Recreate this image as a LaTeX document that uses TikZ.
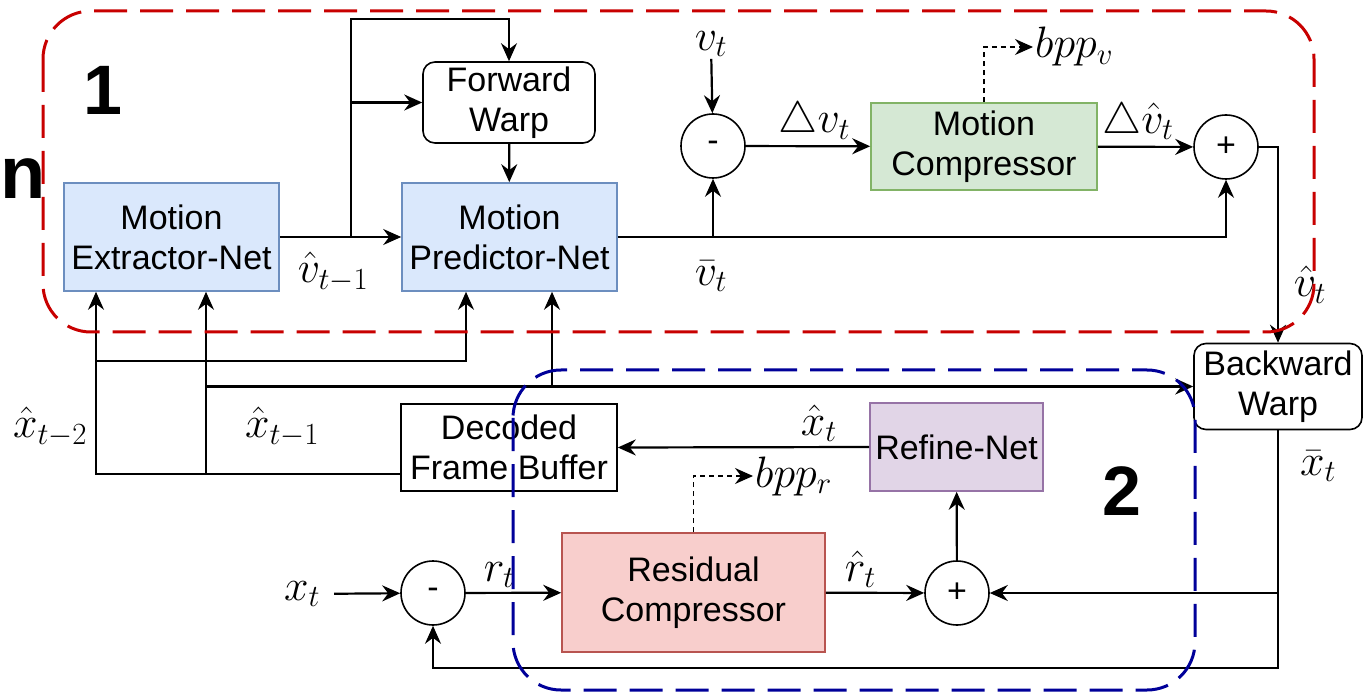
\RequirePackage{fix-cm}
\documentclass[tikz,border=0pt]{standalone}
\usepackage{amsmath}
\usepackage{fontspec}
\setmainfont{Liberation Sans}
\usetikzlibrary{arrows.meta,positioning,calc}
\definecolor{netfill}{HTML}{DAE8FC}
\definecolor{netline}{HTML}{6C8EBF}
\definecolor{mcfill}{HTML}{D5E8D4}
\definecolor{mcline}{HTML}{82B366}
\definecolor{rnfill}{HTML}{E1D5E7}
\definecolor{rnline}{HTML}{9673A6}
\definecolor{rcfill}{HTML}{F8CECC}
\definecolor{rcline}{HTML}{B85450}
\definecolor{regred}{HTML}{C80000}
\definecolor{regblue}{HTML}{000099}
\newcommand{\blockfont}{\fontsize{34}{40}\selectfont}
\newcommand{\labfont}{\fontsize{44}{48}\selectfont}
\newcommand{\numfont}{\fontsize{70}{70}\selectfont\bfseries}

\begin{document}
\begin{tikzpicture}[x=1pt, y=-1pt,
    box/.style={rectangle, draw, line width=1.6pt, align=center,
                font=\blockfont, inner sep=2pt},
    net/.style={box, fill=netfill, draw=netline,
                minimum width=215pt, minimum height=108pt},
    warp/.style={box, rounded corners=12pt, fill=white},
    op/.style={circle, draw, line width=1.6pt, minimum size=64pt,
               inner sep=0pt, font=\blockfont},
    arr/.style={-{Stealth[length=18pt,width=16pt,inset=6pt]}, line width=2.2pt},
    bits/.style={arr, line width=1.4pt, dash pattern=on 5pt off 4pt},
    lab/.style={font=\labfont, inner sep=2pt},
    region/.style={line width=3pt, dash pattern=on 33pt off 13pt,
                   rounded corners=48pt}
]
\useasboundingbox (0,0) rectangle (1363,692);

% motion part
\node[net] (ext) at (171.5,237) {Motion\\Extractor-Net};
\node[net] (pred) at (509.5,237) {Motion\\Predictor-Net};
\node[warp, minimum width=172pt, minimum height=81pt] (fwarp) at (509,102.5) {Forward\\Warp};
\node[op] (msub) at (713,146) {-};
\node[box, fill=mcfill, draw=mcline, minimum width=226pt, minimum height=87pt]
  (mcomp) at (984,146.5) {Motion\\Compressor};
\node[op] (madd) at (1226,147) {+};
\node[lab] (vt) at (711,44) {$v_t$};
\node[lab, anchor=west] (bppv) at (1033,47) {$bpp_v$};

% residual part
\node[warp, minimum width=168pt, minimum height=86pt] (bwarp) at (1278,386.5) {Backward\\Warp};
\node[box, fill=white, minimum width=216pt, minimum height=87pt] (dfb) at (509,447.5) {Decoded\\Frame Buffer};
\node[box, fill=rnfill, draw=rnline, minimum width=173pt, minimum height=88pt]
  (refine) at (956.5,447) {Refine-Net};
\node[box, fill=rcfill, draw=rcline, minimum width=263pt, minimum height=119pt]
  (rcomp) at (693.5,592.5) {Residual\\Compressor};
\node[op] (radd) at (957,593) {+};
\node[op] (rsub) at (433,593) {-};
\node[lab] (xt) at (302,594) {$x_t$};
\node[lab, anchor=west] (bppr) at (753,476) {$bpp_r$};

% motion connectors
\coordinate (sp) at (351,237);
\draw[arr] (ext.east) -- (pred.west);
\draw[arr] (sp) |- ($(fwarp.north)+(0,-42)$) -- (fwarp.north);
\draw[arr] (sp |- fwarp.west) -- (fwarp.west);
\draw[arr] (fwarp) -- (pred);
\draw[arr] (vt) -- (msub);
\draw[arr] (pred.east) -| (madd.south);
\draw[arr] (msub.south |- pred.east) -- (msub.south);
\draw[arr] (msub) -- node[lab, above=2pt, pos=0.55] {$\triangle v_t$} (mcomp);
\draw[arr] (mcomp) -- node[lab, above=2pt, pos=0.42] {$\triangle\hat{v}_t$} (madd);
\draw[bits] (mcomp.north) |- (bppv.west);
\draw[arr] (madd.east) -| (bwarp.north);

% reference frames
\coordinate (dfbout) at ($(dfb.south west)+(0,-18)$);
\coordinate (rowA) at (0,361);
\draw[arr] (dfbout) -| ([xshift=-75.5pt]ext.south);
\draw[arr] ([xshift=-75.5pt]ext.south |- rowA) -| ([xshift=-43.5pt]pred.south);
\draw[arr] ([xshift=34.5pt]ext.south |- dfbout) -- ([xshift=34.5pt]ext.south);
\draw[arr] ([xshift=34.5pt]ext.south |- bwarp.west) -- (bwarp.west);
\draw[arr] ([xshift=42.5pt]pred.south |- bwarp.west) -- ([xshift=42.5pt]pred.south);

% residual connectors
\coordinate (fb) at ($(rsub.south)+(0,42)$);
\draw[arr, shorten <=12pt] (xt) -- (rsub);
\draw[arr] (rsub) -- node[lab, above=2pt, pos=0.35] {$r_t$} (rcomp);
\draw[arr] (rcomp) -- node[lab, above=2pt, pos=0.35] {$\hat{r}_t$} (radd);
\draw[bits] (rcomp.north) |- (bppr.west);
\draw[arr] (radd) -- (refine);
\draw[arr] (refine.west) -- node[lab, above=2pt, pos=0.2] {$\hat{x}_t$} (dfb.east);
\draw[arr] (bwarp.south) |- (radd.east);
\draw[arr] (bwarp.south) |- (fb) -- (rsub.south);

% signal labels
\node[lab] at (333,272) {$\hat{v}_{t-1}$};
\node[lab] at (711,276) {$\bar{v}_t$};
\node[lab] at (1310,285) {$\hat{v}_t$};
\node[lab] at (50,427) {$\hat{x}_{t-2}$};
\node[lab] at (282,427) {$\hat{x}_{t-1}$};
\node[lab] at (1318,466) {$\bar{x}_t$};

% regions
\draw[region, regred] (43,11) rectangle (1314,332);
\draw[region, regblue] (513,370) rectangle (1195,690);
\node[font=\numfont] at (103,90) {1};
\node[font=\numfont] at (1122,491) {2};
\node[font=\fontsize{74}{74}\selectfont\bfseries, inner sep=0pt, anchor=base west] at (0,199) {n};
\end{tikzpicture}
\end{document}
